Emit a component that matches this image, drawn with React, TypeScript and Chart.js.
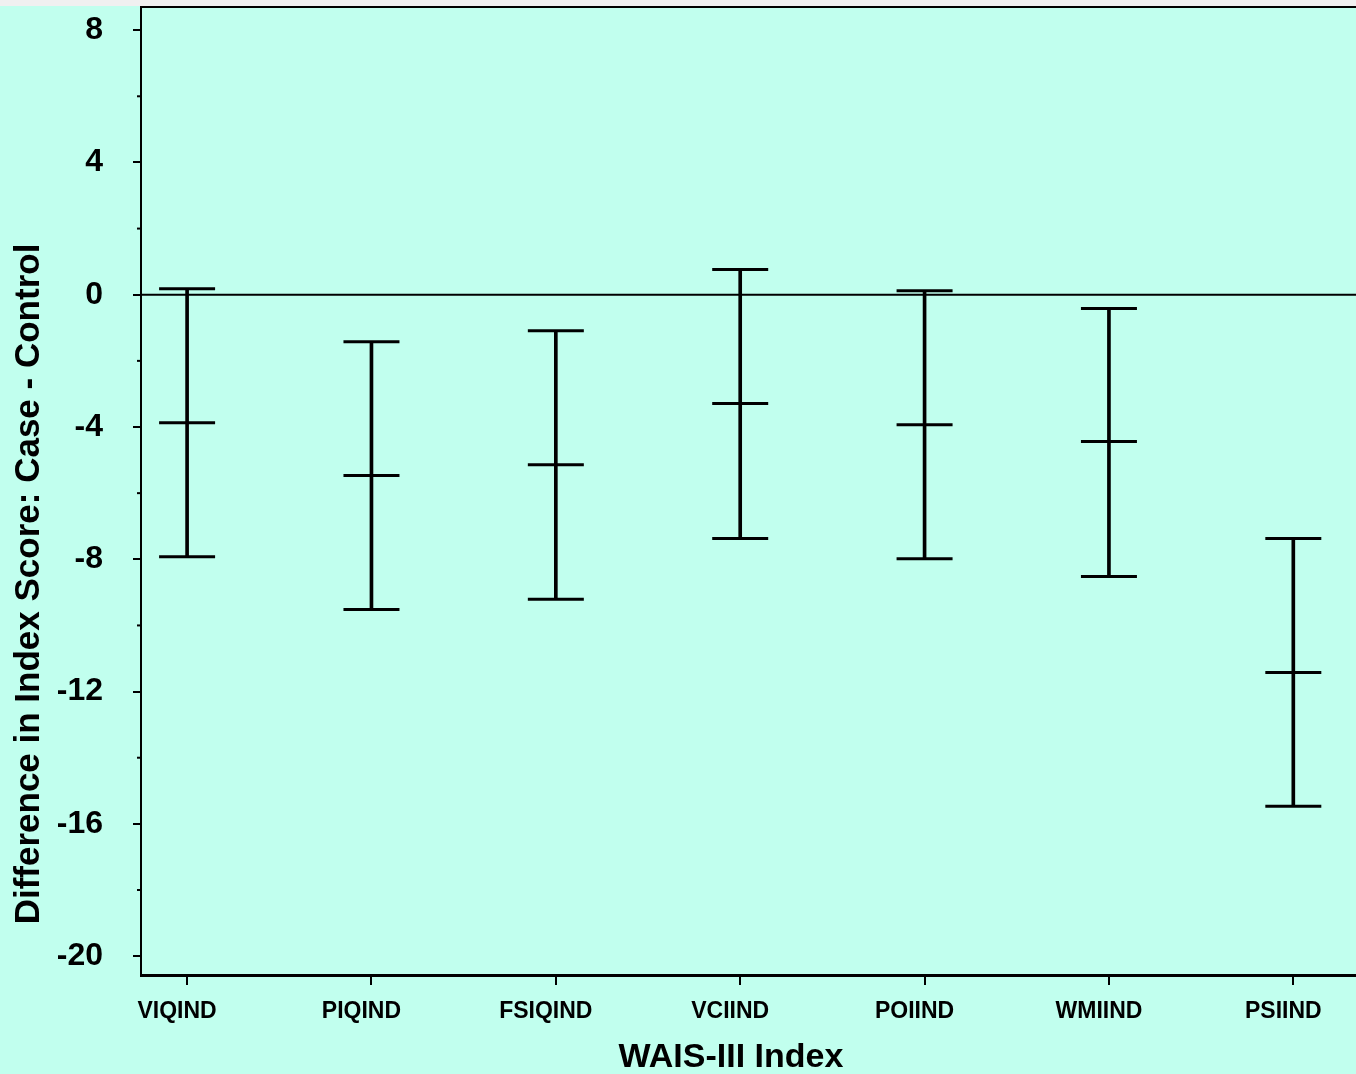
import React, { useEffect, useRef } from "react";
import { Chart, registerables } from "chart.js";

Chart.register(...registerables);

const categories = ["VIQIND", "PIQIND", "FSIQIND", "VCIIND", "POIIND", "WMIIND", "PSIIND"];
const means = [-3.87, -5.47, -5.14, -3.29, -3.93, -4.44, -11.42];
const upper = [0.18, -1.42, -1.09, 0.76, 0.12, -0.42, -7.37];
const lower = [-7.92, -9.52, -9.21, -7.37, -7.98, -8.52, -15.47];
const yMajorTicks = [-20, -16, -12, -8, -4, 0, 4, 8];
const yMinorTicks = [-18, -14, -10, -6, -2, 2, 6];
const xRange = [0.75, 7.34];
const yRange = [-20.57, 8.7];
const zeroLine = [0, 0];
const yTitle = "Difference in Index Score: Case - Control";
const xTitle = "WAIS-III Index";

const BG = "rgb(193,255,238)";
const FONT = '"Liberation Sans", Arial, Helvetica, sans-serif';

const decorPlugin = {
  id: "decor",
  beforeDraw(chart: any) {
    const { ctx, width, height, chartArea } = chart;
    ctx.save();
    ctx.fillStyle = BG;
    ctx.fillRect(0, 0, width, height);
    ctx.fillStyle = "#f0f0f0";
    ctx.fillRect(0, 0, width, chartArea.top - 1);
    ctx.restore();
  },
  afterDraw(chart: any) {
    const { ctx, chartArea, scales } = chart;
    ctx.save();
    ctx.strokeStyle = "#000";
    ctx.lineWidth = 2;
    ctx.beginPath();
    ctx.moveTo(chartArea.left, chartArea.top);
    ctx.lineTo(chartArea.right, chartArea.top);
    ctx.stroke();
    const y = scales.y;
    ctx.lineWidth = 2;
    yMinorTicks.forEach((v) => {
      const py = y.getPixelForValue(v);
      ctx.beginPath();
      ctx.moveTo(chartArea.left - 4, py);
      ctx.lineTo(chartArea.left, py);
      ctx.stroke();
    });
    ctx.fillStyle = "#000";
    ctx.font = `bold 35px ${FONT}`;
    ctx.textAlign = "center";
    ctx.textBaseline = "middle";
    ctx.save();
    ctx.translate(29, 584);
    ctx.rotate(-Math.PI / 2);
    ctx.fillText(yTitle, 0, 0);
    ctx.restore();
    ctx.font = `bold 34px ${FONT}`;
    ctx.textBaseline = "alphabetic";
    ctx.fillText(xTitle, 731, 1067);
    ctx.restore();
  },
};

export default function App() {
  const ref = useRef<HTMLCanvasElement | null>(null);
  useEffect(() => {
    if (!ref.current) return;
    const xs = categories.map((_, i) => i + 1);
    const chart = new Chart(ref.current, {
      type: "scatter",
      data: {
        datasets: [
          {
            type: "line",
            data: xRange.map((x, i) => ({ x, y: zeroLine[i] })),
            borderColor: "#000",
            borderWidth: 2,
            pointRadius: 0,
            order: 5,
          } as any,
          {
            type: "bar",
            data: xs.map((x, i) => ({ x, y: [lower[i], upper[i]] })),
            backgroundColor: "#000",
            borderWidth: 0,
            barThickness: 3,
            order: 4,
          } as any,
          {
            data: xs.map((x, i) => ({ x, y: upper[i] })),
            pointStyle: "line",
            pointRadius: 28,
            borderWidth: 3,
            borderColor: "#000",
            order: 1,
          },
          {
            data: xs.map((x, i) => ({ x, y: means[i] })),
            pointStyle: "line",
            pointRadius: 28,
            borderWidth: 3,
            borderColor: "#000",
            order: 1,
          },
          {
            data: xs.map((x, i) => ({ x, y: lower[i] })),
            pointStyle: "line",
            pointRadius: 28,
            borderWidth: 3,
            borderColor: "#000",
            order: 1,
          },
        ],
      },
      options: {
        animation: false,
        responsive: false,
        devicePixelRatio: 1,
        layout: { autoPadding: false, padding: { top: 7, right: 0, bottom: 0, left: 0 } },
        plugins: { legend: { display: false }, tooltip: { enabled: false } },
        scales: {
          x: {
            type: "linear",
            min: xRange[0],
            max: xRange[1],
            offset: false,
            afterBuildTicks: (scale: any) => {
              scale.ticks = xs.map((v) => ({ value: v }));
            },
            afterFit: (scale: any) => {
              scale.height = 99;
              scale.paddingLeft = 0;
              scale.paddingRight = 0;
              scale.paddingTop = 0;
              scale.paddingBottom = 0;
            },
            grid: {
              offset: false,
              drawOnChartArea: false,
              drawTicks: true,
              tickLength: 10,
              color: "#000",
              lineWidth: 2,
            },
            border: { display: true, color: "#000", width: 3 },
            ticks: {
              autoSkip: false,
              maxRotation: 0,
              padding: 13,
              labelOffset: -10,
              color: "#000",
              font: { family: FONT, size: 23, weight: "bold" },
              callback: (v: any) => categories[Math.round(Number(v)) - 1] ?? "",
            },
          },
          y: {
            type: "linear",
            min: yRange[0],
            max: yRange[1],
            afterBuildTicks: (scale: any) => {
              scale.ticks = yMajorTicks.map((v) => ({ value: v }));
            },
            afterFit: (scale: any) => {
              scale.width = 141;
              scale.paddingLeft = 0;
              scale.paddingRight = 0;
              scale.paddingTop = 0;
              scale.paddingBottom = 0;
            },
            grid: {
              drawOnChartArea: false,
              drawTicks: true,
              tickLength: 8,
              color: "#000",
              lineWidth: 2,
            },
            border: { display: true, color: "#000", width: 2 },
            ticks: {
              padding: 30,
              color: "#000",
              font: { family: FONT, size: 32, weight: "bold" },
              callback: (v: any) => String(v),
            },
          },
        },
      },
      plugins: [decorPlugin],
    } as any);
    return () => chart.destroy();
  }, []);
  return (
    <div style={{ position: "fixed", left: 0, top: 0, width: 1356, height: 1074, background: BG }}>
      <canvas ref={ref} width={1356} height={1074} style={{ display: "block" }} />
    </div>
  );
}
